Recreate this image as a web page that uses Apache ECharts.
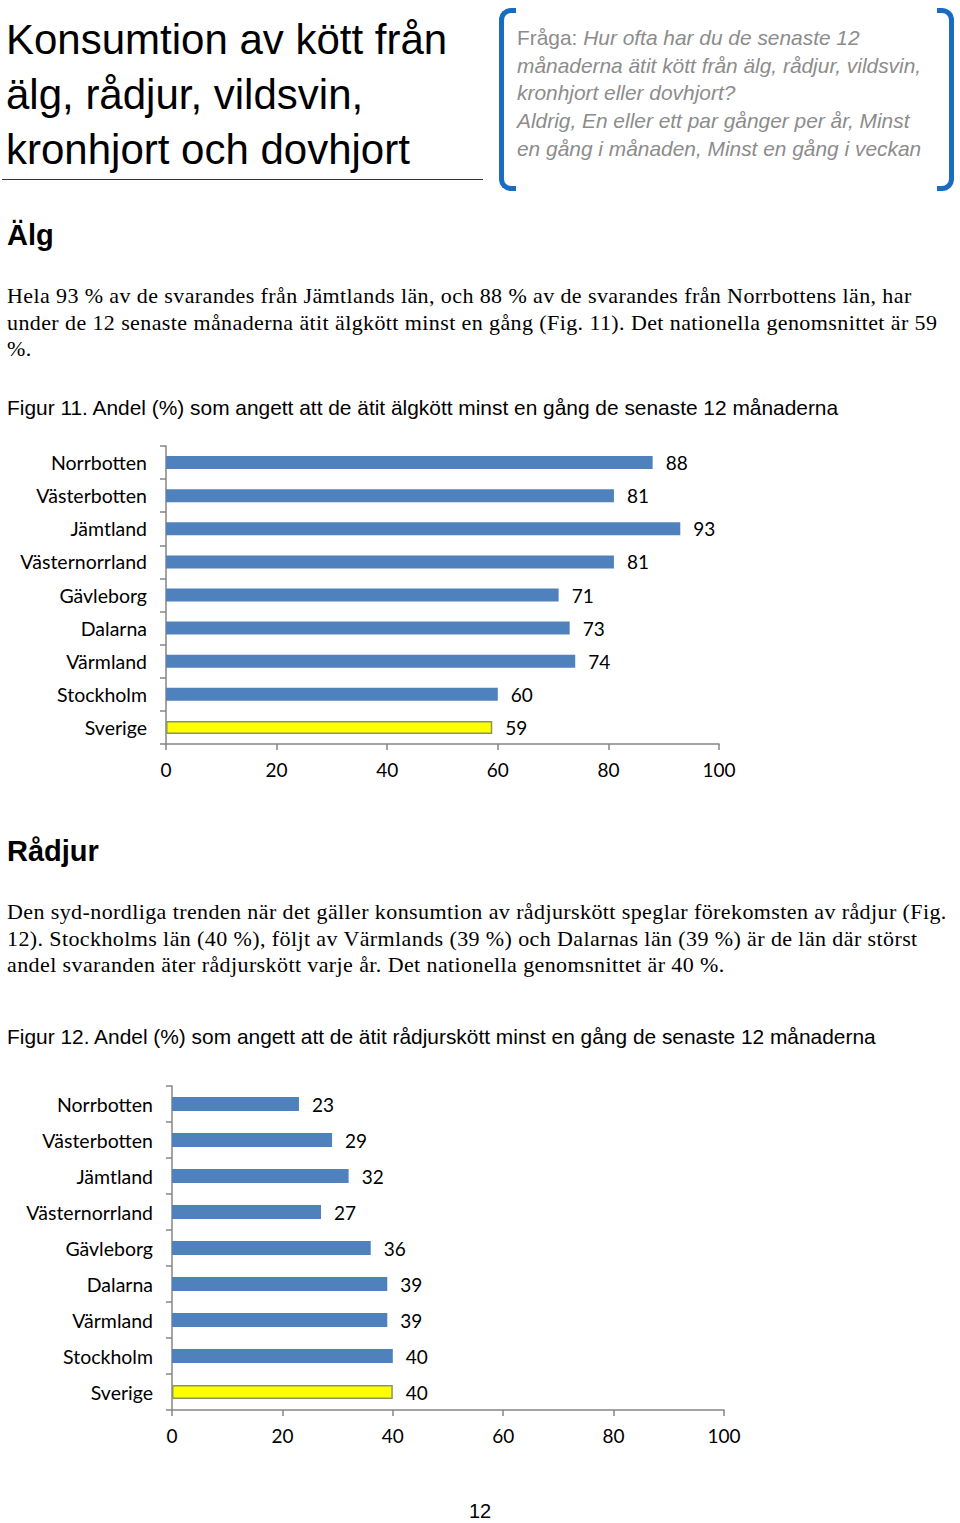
<!DOCTYPE html>
<html><head><meta charset="utf-8">
<script src="https://cdn.jsdelivr.net/npm/echarts@6/dist/echarts.min.js"></script>
<style>
html,body{margin:0;padding:0;background:#fff;}
body{width:960px;height:1523px;position:relative;overflow:hidden;}
.abs{position:absolute;white-space:nowrap;}
.title{font-family:"Liberation Sans",Arial,sans-serif;font-size:42px;color:#000;line-height:55px;left:6px;top:12px;}
.q{font-family:"Liberation Sans",Arial,sans-serif;font-size:20.9px;color:#8c8c8c;line-height:27.7px;left:517px;top:24px;font-style:italic;}
.h{font-family:"Liberation Sans",Arial,sans-serif;font-weight:bold;font-size:29px;color:#000;left:7px;}
.p{font-family:"Liberation Serif","Times New Roman",serif;font-size:22px;letter-spacing:0.4px;color:#000;line-height:26.5px;left:7px;}
.fig{font-family:"Liberation Sans",Arial,sans-serif;font-size:20.9px;color:#000;left:7px;}
.chart{position:absolute;left:0;width:960px;}
</style></head>
<body>
<div class="abs title">Konsumtion av kött från<br>älg, rådjur, vildsvin,<br>kronhjort och dovhjort</div>
<div class="abs" style="left:2px;top:179px;width:481px;height:0;border-top:1.5px solid #333;"></div>
<div class="abs" style="left:499px;top:8px;width:12px;height:173px;border:5px solid #1a6cc0;border-right:none;border-radius:12px 0 0 12px;"></div>
<div class="abs" style="left:937px;top:8px;width:12px;height:173px;border:5px solid #1a6cc0;border-left:none;border-radius:0 12px 12px 0;"></div>
<div class="abs q"><span style="font-style:normal">Fråga:</span> Hur ofta har du de senaste 12<br>månaderna ätit kött från älg, rådjur, vildsvin,<br>kronhjort eller dovhjort?<br>Aldrig, En eller ett par gånger per år, Minst<br>en gång i månaden, Minst en gång i veckan</div>

<div class="abs h" style="top:219px;">Älg</div>
<div class="abs p" style="top:283px;">Hela 93 % av de svarandes från Jämtlands län, och 88 % av de svarandes från Norrbottens län, har<br>under de 12 senaste månaderna ätit älgkött minst en gång (Fig. 11). Det nationella genomsnittet är 59<br>%.</div>
<div class="abs fig" style="top:396px;">Figur 11. Andel (%) som angett att de ätit älgkött minst en gång de senaste 12 månaderna</div>
<div id="c1" class="chart" style="top:430px;height:370px;"></div>

<div class="abs h" style="top:835px;">Rådjur</div>
<div class="abs p" style="top:899px;">Den syd-nordliga trenden när det gäller konsumtion av rådjurskött speglar förekomsten av rådjur (Fig.<br>12). Stockholms län (40 %), följt av Värmlands (39 %) och Dalarnas län (39 %) är de län där störst<br>andel svaranden äter rådjurskött varje år. Det nationella genomsnittet är 40 %.</div>
<div class="abs fig" style="top:1025px;">Figur 12. Andel (%) som angett att de ätit rådjurskött minst en gång de senaste 12 månaderna</div>
<div id="c2" class="chart" style="top:1070px;height:400px;"></div>

<div class="abs" style="left:469px;top:1500px;font-family:'Liberation Sans',Arial,sans-serif;font-size:20px;color:#000;">12</div>

<script>
const categories = ["Norrbotten","Västerbotten","Jämtland","Västernorrland","Gävleborg","Dalarna","Värmland","Stockholm","Sverige"];
const algValues = [88, 81, 93, 81, 71, 73, 74, 60, 59];
const radjurValues = [23, 29, 32, 27, 36, 39, 39, 40, 40];
const xTicks = [0, 20, 40, 60, 80, 100];

const BLUE = '#4F81BD';
const FONT = 'Lato, "Open Sans", sans-serif';

function makeOption(values, grid, barW) {
  return {
    animation: false,
    grid: grid,
    xAxis: {
      type: 'value', min: xTicks[0], max: xTicks[xTicks.length-1], interval: xTicks[1]-xTicks[0],
      splitLine: {show: false},
      axisLine: {show: true, lineStyle: {color: '#868686', width: 1.5}},
      axisTick: {show: true, length: 6, lineStyle: {color: '#868686', width: 1.5}},
      axisLabel: {color: '#000', fontSize: 19, fontFamily: FONT, margin: 16}
    },
    yAxis: {
      type: 'category', inverse: true, data: categories,
      axisLine: {show: true, lineStyle: {color: '#868686', width: 1.5}},
      axisTick: {show: true, length: 6, alignWithLabel: false, lineStyle: {color: '#868686', width: 1.5}},
      axisLabel: {color: '#000', fontSize: 19.5, fontFamily: FONT, margin: 19}
    },
    series: [{
      type: 'bar',
      barWidth: barW,
      data: values.map((v, i) => i === values.length - 1
        ? {value: v, itemStyle: {color: '#FFFF00', borderColor: '#86995a', borderWidth: 1.5}}
        : {value: v, itemStyle: {color: BLUE}}),
      label: {show: true, position: 'right', distance: 13, color: '#000', fontSize: 19, fontFamily: FONT}
    }]
  };
}

const c1 = echarts.init(document.getElementById('c1'), null, {renderer: 'svg'});
c1.setOption(makeOption(algValues, {left: 166, right: 241, top: 16, bottom: 56}, 13));
const c2 = echarts.init(document.getElementById('c2'), null, {renderer: 'svg'});
c2.setOption(makeOption(radjurValues, {left: 172, right: 236, top: 16, bottom: 60}, 14));
</script>
</body></html>
